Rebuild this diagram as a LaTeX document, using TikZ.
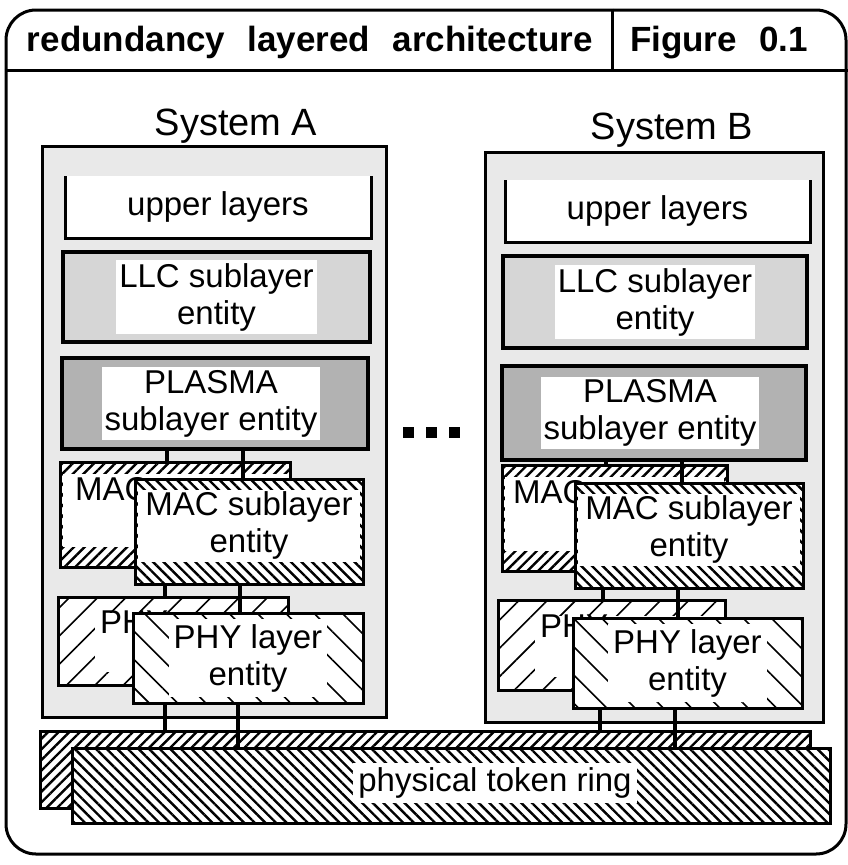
\documentclass[tikz,border=0pt]{standalone}
\usepackage{fontspec}
\setmainfont{Liberation Sans}
\newfontfamily\titlefont[WordSpace=2.3]{Liberation Sans}
\usetikzlibrary{patterns.meta}
\begin{document}
\begin{tikzpicture}[x=1pt,y=-1pt,
  box/.style={draw,line width=3pt,inner sep=0pt,outer sep=0pt},
  sysbox/.style={box,line width=3pt,fill=gray!17},
  upbox/.style={inner sep=0pt,outer sep=0pt,fill=white},
  llcbox/.style={box,line width=3.5pt,fill=gray!32},
  plasmabox/.style={box,line width=3.5pt,fill=gray!60},
  lbl/.style={font=\fontsize{33}{37}\selectfont,align=center,inner sep=3pt},
  wlbl/.style={lbl,fill=white},
  syslbl/.style={font=\fontsize{38}{42}\selectfont,inner sep=0pt},
  titlelbl/.style={font=\titlefont\bfseries\fontsize{35}{40}\selectfont,inner sep=0pt},
  densene/.style={box,preaction={fill=white},pattern={Lines[angle=45,distance=7.5pt,line width=2.4pt]}},
  densenw/.style={box,preaction={fill=white},pattern={Lines[angle=-45,distance=7.5pt,line width=2.4pt]}},
  sparsene/.style={box,preaction={fill=white},pattern={Lines[angle=45,distance=20pt,line width=1.6pt]}},
  sparsenw/.style={box,preaction={fill=white},pattern={Lines[angle=-45,distance=20pt,line width=1.6pt]}},
  conn/.style={line width=4.5pt},
  upline/.style={line width=3pt},
  sq/.style={fill=black,minimum size=11pt,inner sep=0pt}
]
\useasboundingbox (0,0) rectangle (848,865);

% outer frame and title bar
\node[draw,line width=3pt,rounded corners=30pt,minimum width=840pt,minimum height=844pt,inner sep=0pt] (frame) at (426,432) {};
\draw[line width=3pt] (frame.west |- 0,70) coordinate (tsl) -- (frame.east |- 0,70) coordinate (tsr);
\draw[line width=3pt] (frame.north -| 612,0) -- (tsl -| 612,0);
\node[titlelbl] (title) at (310,42) {redundancy layered architecture};
\node[titlelbl] (fig) at (719,43) {Figure 0.1};

% system labels
\node[syslbl] (labA) at (236,126) {System A};
\node[syslbl] (labB) at (672,130) {System B};

% system boxes
\node[sysbox,minimum width=344pt,minimum height=571pt] (sysA) at (214,431.5) {};
\node[sysbox,minimum width=338pt,minimum height=570pt] (sysB) at (654,437) {};

% upper layers
\node[upbox,minimum width=306pt,minimum height=62pt] (upA) at (218,207) {};
\draw[upline] (upA.north west) -- (upA.south west) -- (upA.south east) -- (upA.north east);
\node[lbl] (upAt) at (upA.center) {upper layers};
\node[upbox,minimum width=305pt,minimum height=62pt] (upB) at (657.5,211) {};
\draw[upline] (upB.north west) -- (upB.south west) -- (upB.south east) -- (upB.north east);
\node[lbl] (upBt) at (upB.center) {upper layers};

% LLC
\node[llcbox,minimum width=307pt,minimum height=90pt] (llcA) at (216.5,297) {};
\node[wlbl] (llcAt) at (llcA.center) {LLC sublayer\\entity};
\node[llcbox,minimum width=304pt,minimum height=92pt] (llcB) at (655,302) {};
\node[wlbl] (llcBt) at (llcB.center) {LLC sublayer\\entity};

% PLASMA
\node[plasmabox,minimum width=306pt,minimum height=91pt] (plA) at (215,403.5) {};
\node[wlbl] (plAt) at ([xshift=-4pt]plA.center) {PLASMA\\sublayer entity};
\node[plasmabox,minimum width=304pt,minimum height=94pt] (plB) at (654,413) {};
\node[wlbl] (plBt) at ([xshift=-4pt]plB.center) {PLASMA\\sublayer entity};

% dots between systems
\node[sq] (d1) at (408,432) {};
\node[sq] (d2) at (431,432) {};
\node[sq] (d3) at (454,432) {};

% ---------- System A lower part ----------
\node[densene,minimum width=230pt,minimum height=105pt] (macbA) at (175,514.5) {};
\fill[white] ([shift={(3,12)}]macbA.north west) rectangle ([shift={(-3,-20)}]macbA.south east);
\node[lbl,inner sep=0pt,anchor=base west] (macbAt) at (75,500) {MAC};
\draw[conn] (plA.south -| 167,0) -- (macbA.north -| 167,0);
\draw[conn] (plA.south -| 243,0) -- (macbA.north -| 243,0) -- (243,479);
\node[densenw,minimum width=228pt,minimum height=105pt] (macfA) at (249,531.5) {};
\fill[white] ([shift={(3,11)}]macfA.north west) rectangle ([shift={(-3,-22)}]macfA.south east);
\node[lbl] (macfAt) at ([yshift=6pt]macfA.center) {MAC sublayer\\entity};

\node[sparsene,minimum width=230pt,minimum height=88pt] (phybA) at (173,641) {};
\fill[white] ([shift={(37,16)}]phybA.north west) rectangle ([shift={(-3,-13)}]phybA.south east);
\node[lbl,inner sep=0pt,anchor=base west] (phybAt) at (100,633) {PHY};
\draw[conn] (macfA.south -| 165,0) -- (phybA.north -| 165,0);
\draw[conn] (macfA.south -| 240,0) -- (240,613);
\node[sparsenw,minimum width=230pt,minimum height=90pt] (phyfA) at (248,658) {};
\node[wlbl,inner sep=5pt] (phyfAt) at (phyfA.center) {PHY layer\\entity};

% ---------- System B lower part ----------
\node[densene,minimum width=225pt,minimum height=106pt] (macbB) at (614.5,518) {};
\fill[white] ([shift={(3,12)}]macbB.north west) rectangle ([shift={(-3,-20)}]macbB.south east);
\node[lbl,inner sep=0pt,anchor=base west] (macbBt) at (513,503) {MAC};
\draw[conn] (plB.south -| 606,0) -- (macbB.north -| 606,0);
\draw[conn] (plB.south -| 682,0) -- (682,483);
\node[densenw,minimum width=228pt,minimum height=105pt] (macfB) at (689,535.5) {};
\fill[white] ([shift={(3,11)}]macfB.north west) rectangle ([shift={(-3,-22)}]macfB.south east);
\node[lbl] (macfBt) at ([yshift=6pt]macfB.center) {MAC sublayer\\entity};

\node[sparsene,minimum width=227pt,minimum height=90pt] (phybB) at (611.5,645) {};
\fill[white] ([shift={(37,16)}]phybB.north west) rectangle ([shift={(-3,-13)}]phybB.south east);
\node[lbl,inner sep=0pt,anchor=base west] (phybBt) at (540,637) {PHY};
\draw[conn] (macfB.south -| 603,0) -- (phybB.north -| 603,0);
\draw[conn] (macfB.south -| 678,0) -- (678,618);
\node[sparsenw,minimum width=229pt,minimum height=90pt] (phyfB) at (687.5,663) {};
\node[wlbl,inner sep=5pt] (phyfBt) at (phyfB.center) {PHY layer\\entity};

% ---------- physical token ring ----------
\node[densene,minimum width=770pt,minimum height=77pt] (ringb) at (425,769.5) {};
\draw[conn] (phyfA.south -| 165,0) -- (ringb.north -| 165,0);
\draw[conn] (phyfB.south -| 600,0) -- (ringb.north -| 600,0);
\draw[conn] (phyfA.south -| 238,0) -- (238,748);
\draw[conn] (phyfB.south -| 675,0) -- (675,748);
\node[densenw,minimum width=758pt,minimum height=75pt] (ringf) at (451,785.5) {};
\node[wlbl,inner sep=5pt] (ringt) at (495,783) {physical token ring};
\end{tikzpicture}
\end{document}
